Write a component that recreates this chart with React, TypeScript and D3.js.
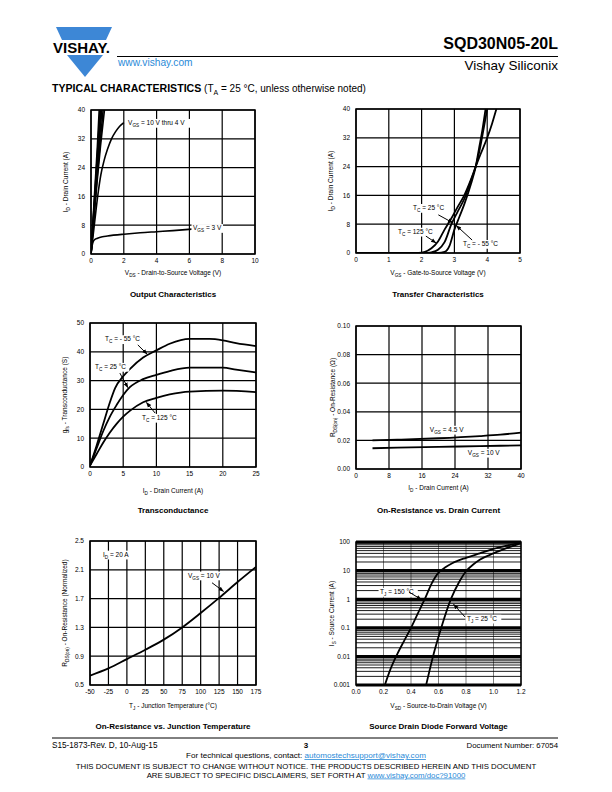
import React from 'react';
import * as d3 from 'd3';

type Pt = [number, number];
const FONT = "'Liberation Sans', Arial, Helvetica, sans-serif";

// ---------- Output characteristics ----------
const outV10: Pt[] = [[0, 0], [0.13, 10], [0.26, 20], [0.39, 30], [0.5, 40]];
const outV9: Pt[] = [[0, 0], [0.14, 10], [0.28, 20], [0.42, 30], [0.55, 40]];
const outV8: Pt[] = [[0, 0], [0.15, 10], [0.3, 20], [0.45, 30], [0.6, 40]];
const outV7: Pt[] = [[0, 0], [0.16, 10], [0.32, 20], [0.49, 30], [0.66, 40]];
const outV6: Pt[] = [[0, 0], [0.17, 10], [0.35, 20], [0.54, 30], [0.74, 40]];
const outV5: Pt[] = [[0, 0], [0.18, 10], [0.37, 20], [0.58, 30], [0.82, 40]];
const outV4: Pt[] = [[0, 0], [0.15, 6], [0.3, 12], [0.45, 17.5], [0.6, 22], [0.8, 26], [1.0, 29], [1.25, 32], [1.5, 34], [1.75, 35.5], [2.0, 36.5]];
const outV3: Pt[] = [[0, 0], [0.04, 1.5], [0.1, 3], [0.2, 3.9], [0.4, 4.4], [0.7, 4.8], [1, 5.0], [2, 5.5], [3, 5.9], [4, 6.2], [5, 6.5], [6.15, 6.9]];
const outXTicks = [0, 2, 4, 6, 8, 10];
const outYTicks = [0, 8, 16, 24, 32, 40];

// ---------- Transfer characteristics ----------
const trT125: Pt[] = [[0, 0], [1.9, 0], [2.1, 0.3], [2.3, 1.3], [2.5, 3.2], [2.7, 6.5], [2.9, 9.5], [3.1, 12.8], [3.3, 16], [3.5, 20.3], [3.65, 24], [3.8, 27.5], [4.0, 32], [4.15, 36], [4.28, 40]];
const trT25: Pt[] = [[0, 0], [2.1, 0], [2.3, 0.2], [2.5, 0.9], [2.7, 3], [2.9, 7.8], [3.1, 11.5], [3.3, 15], [3.5, 20], [3.65, 24], [3.8, 30], [3.9, 35], [4.0, 40]];
const trTm55: Pt[] = [[0, 0], [2.5, 0], [2.7, 0.3], [2.85, 2], [3.0, 6.5], [3.15, 10], [3.3, 13.5], [3.5, 19], [3.65, 24], [3.75, 29], [3.85, 34], [3.95, 40]];
const trXTicks = [0, 1, 2, 3, 4, 5];
const trYTicks = [0, 8, 16, 24, 32, 40];

// ---------- Transconductance ----------
const gTm55: Pt[] = [[0, 0.5], [1, 7.5], [2, 15], [3, 22.5], [3.8, 27.5], [5, 31.5], [6, 34], [8, 38], [10, 40.5], [12, 42.8], [15, 44.5], [18, 44.5], [20, 44], [22, 43], [25, 42]];
const gT25: Pt[] = [[0, 0.5], [1, 6.5], [2, 12.5], [3, 17.5], [4, 21.5], [5, 25], [6, 27.7], [8, 30.5], [10, 32], [12, 33.3], [15, 34.5], [20, 34.5], [22, 33.8], [25, 32.8]];
const gT125: Pt[] = [[0, 0.5], [1, 4.5], [2, 8.5], [3, 12], [4, 15], [5, 17.5], [6, 19.5], [8, 22.5], [10, 24], [12, 25.2], [15, 26.2], [20, 26.5], [25, 26]];
const gXTicks = [0, 5, 10, 15, 20, 25];
const gYTicks = [0, 10, 20, 30, 40, 50];

// ---------- On-resistance vs drain current ----------
const rV45: Pt[] = [[4, 0.02], [10, 0.0205], [20, 0.0215], [30, 0.023], [35, 0.024], [40, 0.0255]];
const rV10: Pt[] = [[4, 0.0145], [10, 0.015], [20, 0.0155], [30, 0.016], [40, 0.0165]];
const rXTicks = [0, 8, 16, 24, 32, 40];
const rYTicks = [0, 0.02, 0.04, 0.06, 0.08, 0.1];

// ---------- On-resistance vs junction temperature ----------
const tjCurve: Pt[] = [[-50, 0.63], [-25, 0.73], [0, 0.86], [25, 0.99], [50, 1.13], [75, 1.3], [100, 1.5], [125, 1.71], [150, 1.93], [175, 2.14]];
const tjXTicks = [-50, -25, 0, 25, 50, 75, 100, 125, 150, 175];
const tjYTicks = [0.5, 0.9, 1.3, 1.7, 2.1, 2.5];

// ---------- Source drain diode ----------
const dT150: Pt[] = [[0.21, 0.001], [0.25, 0.0035], [0.3, 0.012], [0.35, 0.035], [0.4, 0.1], [0.45, 0.32], [0.5, 1], [0.55, 3.5], [0.6, 8.5], [0.65, 13], [0.7, 18], [0.8, 28], [0.9, 40], [1.0, 57], [1.1, 75], [1.2, 95]];
const dT25: Pt[] = [[0.51, 0.001], [0.56, 0.01], [0.62, 0.1], [0.69, 1], [0.75, 4], [0.8, 9.5], [0.85, 16], [0.9, 24], [1.0, 40], [1.1, 62], [1.2, 92]];
const dXTicks = [0, 0.2, 0.4, 0.6, 0.8, 1.0, 1.2];
const dYTicks = [0.001, 0.01, 0.1, 1, 10, 100];

// ---------- helpers ----------
function Rich(props: { x: number; y: number; t: string; size?: number; anchor?: string; weight?: string; fill?: string; rot?: boolean; bg?: boolean }) {
  const size = props.size ?? 6.5;
  const parts = props.t.split(/(_\{[^}]*\})/).filter((s) => s.length);
  let shifted = false;
  const kids: any[] = [];
  let chars = 0;
  parts.forEach((p, i) => {
    if (p.startsWith('_{')) {
      const s = p.slice(2, -1);
      chars += s.length * 0.72;
      kids.push(<tspan key={i} fontSize={size * 0.72} dy={size * 0.28}>{s}</tspan>);
      shifted = true;
    } else {
      chars += p.length;
      kids.push(<tspan key={i} dy={shifted ? -size * 0.28 : 0}>{p}</tspan>);
      shifted = false;
    }
  });
  const w = chars * size * 0.52;
  const anchor = props.anchor ?? 'start';
  const bx = anchor === 'start' ? props.x - 1.5 : anchor === 'end' ? props.x - w - 1.5 : props.x - w / 2 - 1.5;
  const txt = (
    <text x={props.x} y={props.y} fontSize={size} fontFamily={FONT} fontWeight={props.weight ?? 'normal'} textAnchor={anchor} fill={props.fill ?? '#000'} style={{ whiteSpace: 'pre' }}>
      {kids}
    </text>
  );
  if (props.rot) {
    return <g transform={`rotate(-90 ${props.x} ${props.y})`}>{txt}</g>;
  }
  return (
    <g>
      {props.bg && <rect x={bx} y={props.y - size * 0.95} width={w + 3} height={size * 1.35} fill="#fff" />}
      {txt}
    </g>
  );
}

type Rect = { x0: number; x1: number; y0: number; y1: number };
type Lab = { x: number; y: number; t: string };
type Lead = [number, number, number, number];

function Panel(p: {
  id: string; r: Rect; xd: [number, number]; yd: [number, number]; xt: number[]; yt: number[];
  xf: (v: number) => string; yf: (v: number) => string; log?: boolean;
  series: Pt[][]; labels: Lab[]; leaders: Lead[]; xLabel: string; yLabel: string; title: string;
  xLabelY: number; titleY: number; yLabelX: number; sw?: number;
}) {
  const { r } = p;
  const x = d3.scaleLinear().domain(p.xd).range([r.x0, r.x1]);
  const y: any = p.log ? d3.scaleLog().domain(p.yd).range([r.y1, r.y0]) : d3.scaleLinear().domain(p.yd).range([r.y1, r.y0]);
  const line = d3.line<Pt>().x((d) => x(d[0])).y((d) => y(d[1])).curve(d3.curveMonotoneX);
  const cx = (r.x0 + r.x1) / 2;
  const cy = (r.y0 + r.y1) / 2;
  const grid: any[] = [];
  if (p.log) {
    const minor: number[] = y.ticks();
    minor.forEach((v: number, i: number) => {
      const dec = Math.abs(Math.log10(v) - Math.round(Math.log10(v))) < 1e-9;
      grid.push(<line key={'h' + i} x1={r.x0} x2={r.x1} y1={y(v)} y2={y(v)} stroke="#000" strokeWidth={dec ? 3 : 0.9} />);
    });
    p.xt.forEach((v, i) => grid.push(<line key={'v' + i} x1={x(v)} x2={x(v)} y1={r.y0} y2={r.y1} stroke="#000" strokeWidth={0.5} />));
  } else {
    p.yt.forEach((v, i) => grid.push(<line key={'h' + i} x1={r.x0} x2={r.x1} y1={y(v)} y2={y(v)} stroke="#000" strokeWidth={1.2} />));
    p.xt.forEach((v, i) => grid.push(<line key={'v' + i} x1={x(v)} x2={x(v)} y1={r.y0} y2={r.y1} stroke="#000" strokeWidth={1.2} />));
  }
  return (
    <g>
      <defs>
        <clipPath id={'clip' + p.id}>
          <rect x={r.x0} y={r.y0} width={r.x1 - r.x0} height={r.y1 - r.y0} />
        </clipPath>
      </defs>
      <rect x={r.x0} y={r.y0} width={r.x1 - r.x0} height={r.y1 - r.y0} fill="#fff" />
      {grid}
      <g clipPath={`url(#clip${p.id})`}>
        {p.series.map((s, i) => (
          <path key={i} d={line(s) || ''} fill="none" stroke="#000" strokeWidth={p.sw ?? 1.8} />
        ))}
      </g>
      <rect x={r.x0} y={r.y0} width={r.x1 - r.x0} height={r.y1 - r.y0} fill="none" stroke="#000" strokeWidth={1.5} />
      {p.labels.map((l, i) => (
        <Rich key={'l' + i} x={x(l.x)} y={y(l.y)} t={l.t} bg />
      ))}
      {p.leaders.map((l, i) => (
        <line key={'a' + i} x1={x(l[0])} y1={y(l[1])} x2={x(l[2])} y2={y(l[3])} stroke="#000" strokeWidth={1} markerEnd="url(#arrowhead)" />
      ))}
      {p.xt.map((v, i) => (
        <text key={'xt' + i} x={x(v)} y={r.y1 + 9} fontSize={6.5} fontFamily={FONT} textAnchor="middle">{p.xf(v)}</text>
      ))}
      {p.yt.map((v, i) => (
        <text key={'yt' + i} x={r.x0 - 6} y={y(v) + 2.3} fontSize={6.5} fontFamily={FONT} textAnchor="end">{p.yf(v)}</text>
      ))}
      <Rich x={cx} y={p.xLabelY} t={p.xLabel} anchor="middle" />
      <Rich x={p.yLabelX} y={cy} t={p.yLabel} anchor="middle" rot />
      <text x={cx} y={p.titleY} fontSize={8} fontWeight="bold" fontFamily={FONT} textAnchor="middle">{p.title}</text>
    </g>
  );
}

const fInt = (v: number) => String(v);
const f1 = (v: number) => v.toFixed(1);
const f2 = (v: number) => v.toFixed(2);
const fLog = (v: number) => (v >= 1 ? String(v) : String(+v.toPrecision(1)));

export default function App() {
  return (
    <svg width={612} height={792} viewBox="0 0 612 792" style={{ position: 'absolute', left: 0, top: 0, background: '#fff' }}>
      <defs>
        <marker id="arrowhead" markerWidth={6} markerHeight={6} refX={5} refY={3} orient="auto" markerUnits="userSpaceOnUse">
          <path d="M0,0.9 L5.5,3 L0,5.1 z" fill="#000" />
        </marker>
      </defs>
      <rect x={0} y={0} width={612} height={792} fill="#fff" />

      {/* Header */}
      <polygon points="56,27 112,27 106,40 62,40" fill="#3d87d6" />
      <polygon points="67,55 103,55 85,77" fill="#3d87d6" />
      <text x={53} y={53} fontSize={14} fontWeight="bold" fontFamily={FONT} textLength={57} lengthAdjust="spacingAndGlyphs">VISHAY.</text>
      <line x1={117} x2={558} y1={56.5} y2={56.5} stroke="#000" strokeWidth={1} />
      <text x={118} y={65.5} fontSize={10.2} fontFamily={FONT} fill="#2a8ad8">www.vishay.com</text>
      <text x={558} y={49} fontSize={16} fontWeight="bold" fontFamily={FONT} textAnchor="end">SQD30N05-20L</text>
      <text x={558} y={69.5} fontSize={13.5} fontFamily={FONT} textAnchor="end">Vishay Siliconix</text>
      <text x={52} y={92} fontFamily={FONT} style={{ whiteSpace: 'pre' }}>
        <tspan fontSize={10.6} fontWeight="bold">TYPICAL CHARACTERISTICS</tspan>
        <tspan fontSize={10}> (T</tspan>
        <tspan fontSize={7} dy={2.6}>A</tspan>
        <tspan fontSize={10} dy={-2.6}> = 25 °C, unless otherwise noted)</tspan>
      </text>

      <Panel id="1" r={{ x0: 91, x1: 255, y0: 110, y1: 254 }} xd={[0, 10]} yd={[0, 40]} xt={outXTicks} yt={outYTicks} xf={fInt} yf={fInt}
        series={[outV10, outV9, outV8, outV7, outV6, outV5, outV4, outV3]}
        labels={[{ x: 2.26, y: 35.8, t: 'V_{GS} = 10 V thru 4 V' }, { x: 6.22, y: 6.6, t: 'V_{GS} = 3 V' }]}
        leaders={[]}
        xLabel="V_{DS} - Drain-to-Source Voltage (V)" yLabel="I_{D} - Drain Current (A)" title="Output Characteristics"
        xLabelY={275} titleY={297} yLabelX={68} sw={1.6} />

      <Panel id="2" r={{ x0: 356, x1: 520, y0: 109, y1: 253 }} xd={[0, 5]} yd={[0, 40]} xt={trXTicks} yt={trYTicks} xf={fInt} yf={fInt}
        series={[trT125, trT25, trTm55]}
        labels={[{ x: 1.74, y: 11.9, t: 'T_{C} = 25 °C' }, { x: 1.28, y: 5.3, t: 'T_{C} = 125 °C' }, { x: 3.26, y: 1.9, t: 'T_{C} = - 55 °C' }]}
        leaders={[[2.51, 10.6, 2.95, 8.4], [2.13, 4.7, 2.44, 2.8], [3.54, 3.6, 3.06, 7.6]]}
        xLabel="V_{GS} - Gate-to-Source Voltage (V)" yLabel="I_{D} - Drain Current (A)" title="Transfer Characteristics"
        xLabelY={275} titleY={297} yLabelX={333} />

      <Panel id="3" r={{ x0: 90, x1: 256, y0: 323, y1: 467 }} xd={[0, 25]} yd={[0, 50]} xt={gXTicks} yt={gYTicks} xf={fInt} yf={fInt}
        series={[gTm55, gT25, gT125]}
        labels={[{ x: 2.26, y: 43.6, t: 'T_{C} = - 55 °C' }, { x: 0.75, y: 34, t: 'T_{C} = 25 °C' }, { x: 7.83, y: 16.3, t: 'T_{C} = 125 °C' }]}
        leaders={[[7.2, 42.4, 8.6, 39.2], [4.5, 32.6, 5.7, 27.6], [9.8, 18.75, 8.5, 22.4]]}
        xLabel="I_{D} - Drain Current (A)" yLabel="g_{fs} - Transconductance (S)" title="Transconductance"
        xLabelY={493} titleY={513} yLabelX={67} />

      <Panel id="4" r={{ x0: 356, x1: 521, y0: 326, y1: 469 }} xd={[0, 40]} yd={[0, 0.1]} xt={rXTicks} yt={rYTicks} xf={fInt} yf={f2}
        series={[rV45, rV10]}
        labels={[{ x: 17.9, y: 0.0259, t: 'V_{GS} = 4.5 V' }, { x: 27.1, y: 0.0098, t: 'V_{GS} = 10 V' }]}
        leaders={[]}
        xLabel="I_{D} - Drain Current (A)" yLabel="R_{DS(on)} - On-Resistance (Ω)" title="On-Resistance vs. Drain Current"
        xLabelY={490} titleY={513} yLabelX={335} />

      <Panel id="5" r={{ x0: 90, x1: 256, y0: 541, y1: 685 }} xd={[-50, 175]} yd={[0.5, 2.5]} xt={tjXTicks} yt={tjYTicks} xf={fInt} yf={f1}
        series={[tjCurve]}
        labels={[{ x: -32.4, y: 2.28, t: 'I_{D} = 20 A' }, { x: 82.8, y: 1.99, t: 'V_{GS} = 10 V' }]}
        leaders={[[115.4, 1.92, 131, 1.8]]}
        xLabel="T_{J} - Junction Temperature (°C)" yLabel="R_{DS(on)} - On-Resistance (Normalized)" title="On-Resistance vs. Junction Temperature"
        xLabelY={708} titleY={729} yLabelX={67} />

      <Panel id="6" r={{ x0: 356, x1: 521, y0: 542, y1: 685 }} xd={[0, 1.2]} yd={[0.001, 100]} xt={dXTicks} yt={dYTicks} xf={f1} yf={fLog} log
        series={[dT150, dT25]}
        labels={[{ x: 0.175, y: 1.5, t: 'T_{J} = 150 °C' }, { x: 0.807, y: 0.174, t: 'T_{J} = 25 °C' }]}
        leaders={[[0.385, 1.79, 0.475, 0.97], [0.793, 0.239, 0.71, 0.66]]}
        xLabel="V_{SD} - Source-to-Drain Voltage (V)" yLabel="I_{S} - Source Current (A)" title="Source Drain Diode Forward Voltage"
        xLabelY={708} titleY={729} yLabelX={334} />

      {/* Footer */}
      <line x1={52} x2={558} y1={738} y2={738} stroke="#000" strokeWidth={1} />
      <text x={52} y={748} fontSize={8.2} fontFamily={FONT}>S15-1873-Rev. D, 10-Aug-15</text>
      <text x={306} y={748} fontSize={8} fontWeight="bold" fontFamily={FONT} textAnchor="middle">3</text>
      <text x={558} y={748} fontSize={7.8} fontFamily={FONT} textAnchor="end">Document Number: 67054</text>
      <text x={306} y={758} fontSize={8.1} fontFamily={FONT} textAnchor="middle">
        For technical questions, contact: <tspan fill="#2a8ad8" textDecoration="underline">automostechsupport@vishay.com</tspan>
      </text>
      <text x={306} y={769} fontSize={7.8} fontFamily={FONT} textAnchor="middle">THIS DOCUMENT IS SUBJECT TO CHANGE WITHOUT NOTICE. THE PRODUCTS DESCRIBED HEREIN AND THIS DOCUMENT</text>
      <text x={306} y={777.5} fontSize={7.8} fontFamily={FONT} textAnchor="middle">
        ARE SUBJECT TO SPECIFIC DISCLAIMERS, SET FORTH AT <tspan fill="#2a8ad8" textDecoration="underline">www.vishay.com/doc?91000</tspan>
      </text>
    </svg>
  );
}
